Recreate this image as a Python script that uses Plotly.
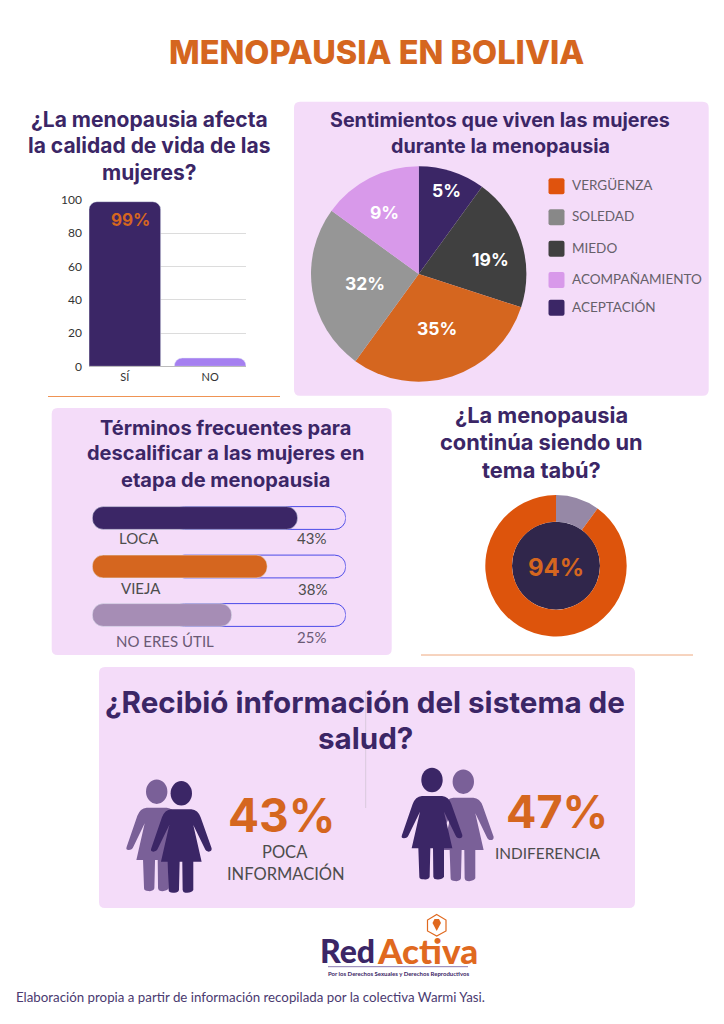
import plotly.graph_objects as go

W = 724
H = 1024

PURPLE = '#3b2666'
ORANGE = '#d5661f'
PANEL = '#f4dcf9'
GREY_TXT = '#4d4d4d'
TITLE_FONT = 'Inter'
TEXT_FONT = 'Lato'
LOGO_FONT = 'Lato'

# bar chart
bar_cats = ['SÍ', 'NO']
bar_vals = [99, 5]
bar_ticks = [0, 20, 40, 60, 80, 100]

# pie chart (slices as drawn, labels as printed)
pie_names = ['ACEPTACIÓN', 'MIEDO', 'VERGÜENZA', 'SOLEDAD', 'ACOMPAÑAMIENTO']
pie_vals = [10, 20, 30, 25, 15]
pie_text = ['5%', '19%', '35%', '32%', '9%']
pie_colors = ['#3b2666', '#404040', '#d5661f', '#969696', '#d899ea']

legend_names = ['VERGÜENZA', 'SOLEDAD', 'MIEDO', 'ACOMPAÑAMIENTO', 'ACEPTACIÓN']
legend_colors = ['#e0530d', '#888888', '#404040', '#d899ea', '#3b2666']

# terms bars (length as drawn, labels as printed)
term_names = ['LOCA', 'VIEJA', 'NO ERES ÚTIL']
term_vals = [81, 69, 55]
term_text = ['43%', '38%', '25%']
term_colors = ['#3b2666', '#d5661f', '#a68db5']
track_start = 32
track_end = 100

# donut
donut_names = ['No', 'Sí']
donut_vals = [10, 90]
donut_colors = ['#9688a6', '#dd540c']


def fx(x):
    return x / W


def fy(y):
    return 1 - y / H


annotations = []
shapes = []


def label(x, y, text, size, color=GREY_TXT, weight=400, anchor='center', font=TEXT_FONT, height=None):
    annotations.append(dict(
        x=fx(x), y=fy(y), xref='paper', yref='paper', text=text, showarrow=False,
        xanchor=anchor, yanchor='middle', align=anchor, height=height,
        font=dict(family=font, size=size, color=color, weight=weight),
    ))


def title(cx, ys, lines, size):
    for y, line in zip(ys, lines):
        label(cx, y, line, size, PURPLE, 700, font=TITLE_FONT)


def to_paper(path):
    # path written in page pixels -> paper fractions
    out = []
    for tok in path.split():
        if ',' in tok:
            a, b = tok.split(',')
            out.append(f'{float(a) / W:.5f},{1 - float(b) / H:.5f}')
        else:
            out.append(tok)
    return ' '.join(out)


def round_rect(x0, y0, x1, y1, r, color, layer='below'):
    path = (
        f'M {x0 + r},{y0} L {x1 - r},{y0} Q {x1},{y0} {x1},{y0 + r} '
        f'L {x1},{y1 - r} Q {x1},{y1} {x1 - r},{y1} L {x0 + r},{y1} '
        f'Q {x0},{y1} {x0},{y1 - r} L {x0},{y0 + r} Q {x0},{y0} {x0 + r},{y0} Z'
    )
    shapes.append(dict(type='path', path=to_paper(path), xref='paper', yref='paper',
                       fillcolor=color, line_width=0, layer=layer))


def hline(x0, x1, y, color, width=1):
    shapes.append(dict(type='line', xref='paper', yref='paper', x0=fx(x0), x1=fx(x1), y0=fy(y), y1=fy(y),
                       line=dict(color=color, width=width), layer='below'))


def circle(cx, cy, rx, ry, color, layer='below'):
    shapes.append(dict(type='circle', xref='paper', yref='paper', x0=fx(cx - rx), x1=fx(cx + rx),
                       y0=fy(cy + ry), y1=fy(cy - ry), fillcolor=color, line_width=0, layer=layer))


# outline of the woman icon, relative to the head centre, 1/3 px
WOMAN = [
    ('M', -30, 48), ('L', 30, 48), ('Q', 50, 50, 58, 72), ('L', 91, 165), ('Q', 92, 175, 82, 175),
    ('Q', 74, 175, 70, 165), ('L', 36, 95), ('L', 61, 205), ('L', 36, 205), ('L', 36, 290),
    ('Q', 30, 300, 12, 298), ('Q', 5, 298, 4, 290), ('L', 3, 205), ('L', -5, 205), ('L', -7, 290),
    ('Q', -10, 300, -25, 298), ('Q', -38, 298, -38, 290), ('L', -41, 205), ('L', -61, 205),
    ('L', -36, 95), ('L', -70, 165), ('Q', -74, 175, -84, 175), ('Q', -94, 175, -90, 165),
    ('L', -58, 72), ('Q', -50, 50, -30, 48),
]


def woman(cx, cy, color):
    circle(cx, cy, 10.7, 12.2, color, layer='above')
    parts = []
    for seg in WOMAN:
        pts = seg[1:]
        pairs = [f'{cx + pts[i] / 3},{cy + pts[i + 1] / 3}' for i in range(0, len(pts), 2)]
        parts.append(seg[0] + ' ' + ' '.join(pairs))
    path = ' '.join(parts) + ' Z'
    shapes.append(dict(type='path', path=to_paper(path), xref='paper', yref='paper',
                       fillcolor=color, line_width=0, layer='above'))


# panels
round_rect(294, 101.7, 708.7, 395.7, 6, PANEL)
round_rect(51.7, 408, 391.7, 655, 6, PANEL)
round_rect(99, 667, 635, 908, 6, PANEL)

hline(48, 280, 396.5, '#ef9354')
hline(421, 693, 655, '#eea87f')
shapes.append(dict(type='line', xref='paper', yref='paper', x0=fx(365.7), x1=fx(365.7), y0=fy(690), y1=fy(808),
                   line=dict(color='#d9c9dd', width=1), layer='below'))

# main title
label(376, 52, 'MENOPAUSIA EN BOLIVIA', 32.5, ORANGE, 800, font=TITLE_FONT)

title(149, [119, 145, 172], ['¿La menopausia afecta', 'la calidad de vida de las', 'mujeres?'], 21)
title(500, [120, 145.7], ['Sentimientos que viven las mujeres', 'durante la menopausia'], 19.7)
title(225, [428, 453, 480], ['Términos frecuentes para', 'descalificar a las mujeres en', 'etapa de menopausia'], 20)
title(541.7, [415, 442, 470], ['¿La menopausia', 'continúa siendo un', 'tema tabú?'], 21.8)
title(365, [702, 738], ['¿Recibió información del sistema de', 'salud?'], 29.6)

fig = go.Figure()

# bar chart
fig.add_trace(go.Bar(x=bar_cats, y=bar_vals, marker=dict(color=[PURPLE, '#a57ff0'], cornerradius=8),
                     xaxis='x', yaxis='y', hoverinfo='skip'))
label(130, 219.5, '99%', 17, ORANGE, 700, font=TITLE_FONT)

# pie
fig.add_trace(go.Pie(labels=pie_names, values=pie_vals, textinfo='none', sort=False,
                     direction='clockwise', rotation=0, marker=dict(colors=pie_colors, line_width=0),
                     domain=dict(x=[fx(311), fx(526.4)], y=[fy(381.7), fy(166.3)]),
                     showlegend=False, hoverinfo='skip'))
pie_label_xy = [(446, 190), (490, 259), (437, 328), (365, 283), (385, 212)]
for txt, xy in zip(pie_text, pie_label_xy):
    label(xy[0], xy[1], txt, 17.5, 'white', 700, font=TITLE_FONT)

# legend
legend_ys = [186.3, 217.3, 248.7, 280, 307.7]
for name, col, y in zip(legend_names, legend_colors, legend_ys):
    round_rect(548.5, y - 8, 564.5, y + 8, 2, col)
    label(569.7, y - 1, name, 13.5, '#66606a', anchor='left')

# terms bars, a bar with a base gets all four corners rounded
term_x = dict(xaxis='x2', yaxis='y2', orientation='h', hoverinfo='skip', width=0.47)
fig.add_trace(go.Bar(y=term_names, x=[track_end - track_start] * 3, base=[track_start] * 3,
                     marker=dict(color='rgba(0,0,0,0)', line=dict(color='#4b4be8', width=1), cornerradius=11),
                     **term_x))
fig.add_trace(go.Bar(y=term_names, x=term_vals, base=[0] * 3,
                     marker=dict(color=term_colors, cornerradius=11), **term_x))

term_label_xy = [(139, 537.7), (141, 588), (165, 640.7)]
term_pct_xy = [(311.7, 538), (312.7, 589), (311.7, 637)]
term_txt_col = [GREY_TXT, GREY_TXT, '#6a5a75']
for name, pct, a, b, col in zip(term_names, term_text, term_label_xy, term_pct_xy, term_txt_col):
    label(a[0], a[1], name, 15, col)
    label(b[0], b[1], pct, 15, col)

# donut
circle(556, 565.7, 44, 44, '#30264b')
fig.add_trace(go.Pie(labels=donut_names, values=donut_vals, sort=False, direction='clockwise', rotation=0,
                     hole=0.622, marker=dict(colors=donut_colors, line_width=0), textinfo='none',
                     domain=dict(x=[fx(485.3), fx(626.7)], y=[fy(636.4), fy(495)]),
                     showlegend=False, hoverinfo='skip'))
label(556, 567, '94%', 24, ORANGE, 700, font=TITLE_FONT)

# people
woman(156.7, 791.7, '#7a6098')
woman(181.3, 793.3, PURPLE)
woman(463.3, 781.7, '#7a6098')
woman(432, 780, PURPLE)

label(281.7, 815, '43%', 46, ORANGE, 700, font=TITLE_FONT)
label(557, 811.7, '47%', 45, ORANGE, 700, font=TITLE_FONT)
label(285, 852, 'POCA', 16.5, GREY_TXT)
label(286, 873, 'INFORMACIÓN', 16.5, GREY_TXT)
label(547.5, 853, 'INDIFERENCIA', 15.4, GREY_TXT)

# logo
label(347, 950, 'Red', 32, PURPLE, 900, font=LOGO_FONT, height=28)
label(427.5, 950, 'Activa', 35, '#e0691f', 900, font=LOGO_FONT, height=28)
hline(328, 468, 966.7, '#8a7ab0', 1)
label(398, 973, 'Por los Derechos Sexuales y Derechos Reproductivos', 6, PURPLE, 700)
hex_path = 'M 436.7,914.5 L 446,920 L 446,931 L 436.7,936 L 427.5,931 L 427.5,920 Z'
shapes.append(dict(type='path', path=to_paper(hex_path), xref='paper', yref='paper',
                   fillcolor='rgba(0,0,0,0)', line=dict(color='#e0691f', width=1.2)))
nib_path = 'M 436.7,931 L 432.5,923 L 434.5,919 L 439,919 L 441,923 Z'
shapes.append(dict(type='path', path=to_paper(nib_path), xref='paper', yref='paper',
                   fillcolor='#e0691f', line_width=0))

# footer
label(14, 997, 'Elaboración propia a partir de información recopilada por la colectiva Warmi Yasi.', 13.3,
      '#4a3a70', anchor='left')

fig.update_layout(
    width=W, height=H, margin=dict(l=0, r=0, t=0, b=0), paper_bgcolor='white', plot_bgcolor='rgba(0,0,0,0)',
    barmode='overlay', bargap=0.16, showlegend=False, shapes=shapes, annotations=annotations,
    font=dict(family=TEXT_FONT, color=GREY_TXT),
    xaxis=dict(domain=[fx(89), fx(246)], range=[-0.42, 1.42], anchor='y', showgrid=False, ticks='', automargin=False,
               showline=True, linecolor='#bbbbbb', tickfont=dict(size=11, color='#333333')),
    yaxis=dict(domain=[fy(366.3), fy(200)], range=[0, 100], anchor='x', tickvals=bar_ticks, gridcolor='#dcdcdc',
               zeroline=False, ticks='', automargin=False, ticklabelstandoff=6, tickfont=dict(size=12, color='#333333')),
    xaxis2=dict(domain=[fx(92.3), fx(345.7)], range=[0, 100], anchor='y2', visible=False, automargin=False),
    yaxis2=dict(domain=[fy(639.25), fy(493.75)], autorange='reversed', anchor='x2', visible=False, type='category',
                automargin=False),
)

fig.write_html('out.html', config=dict(displayModeBar=False), post_script="document.body.style.margin='0';")
